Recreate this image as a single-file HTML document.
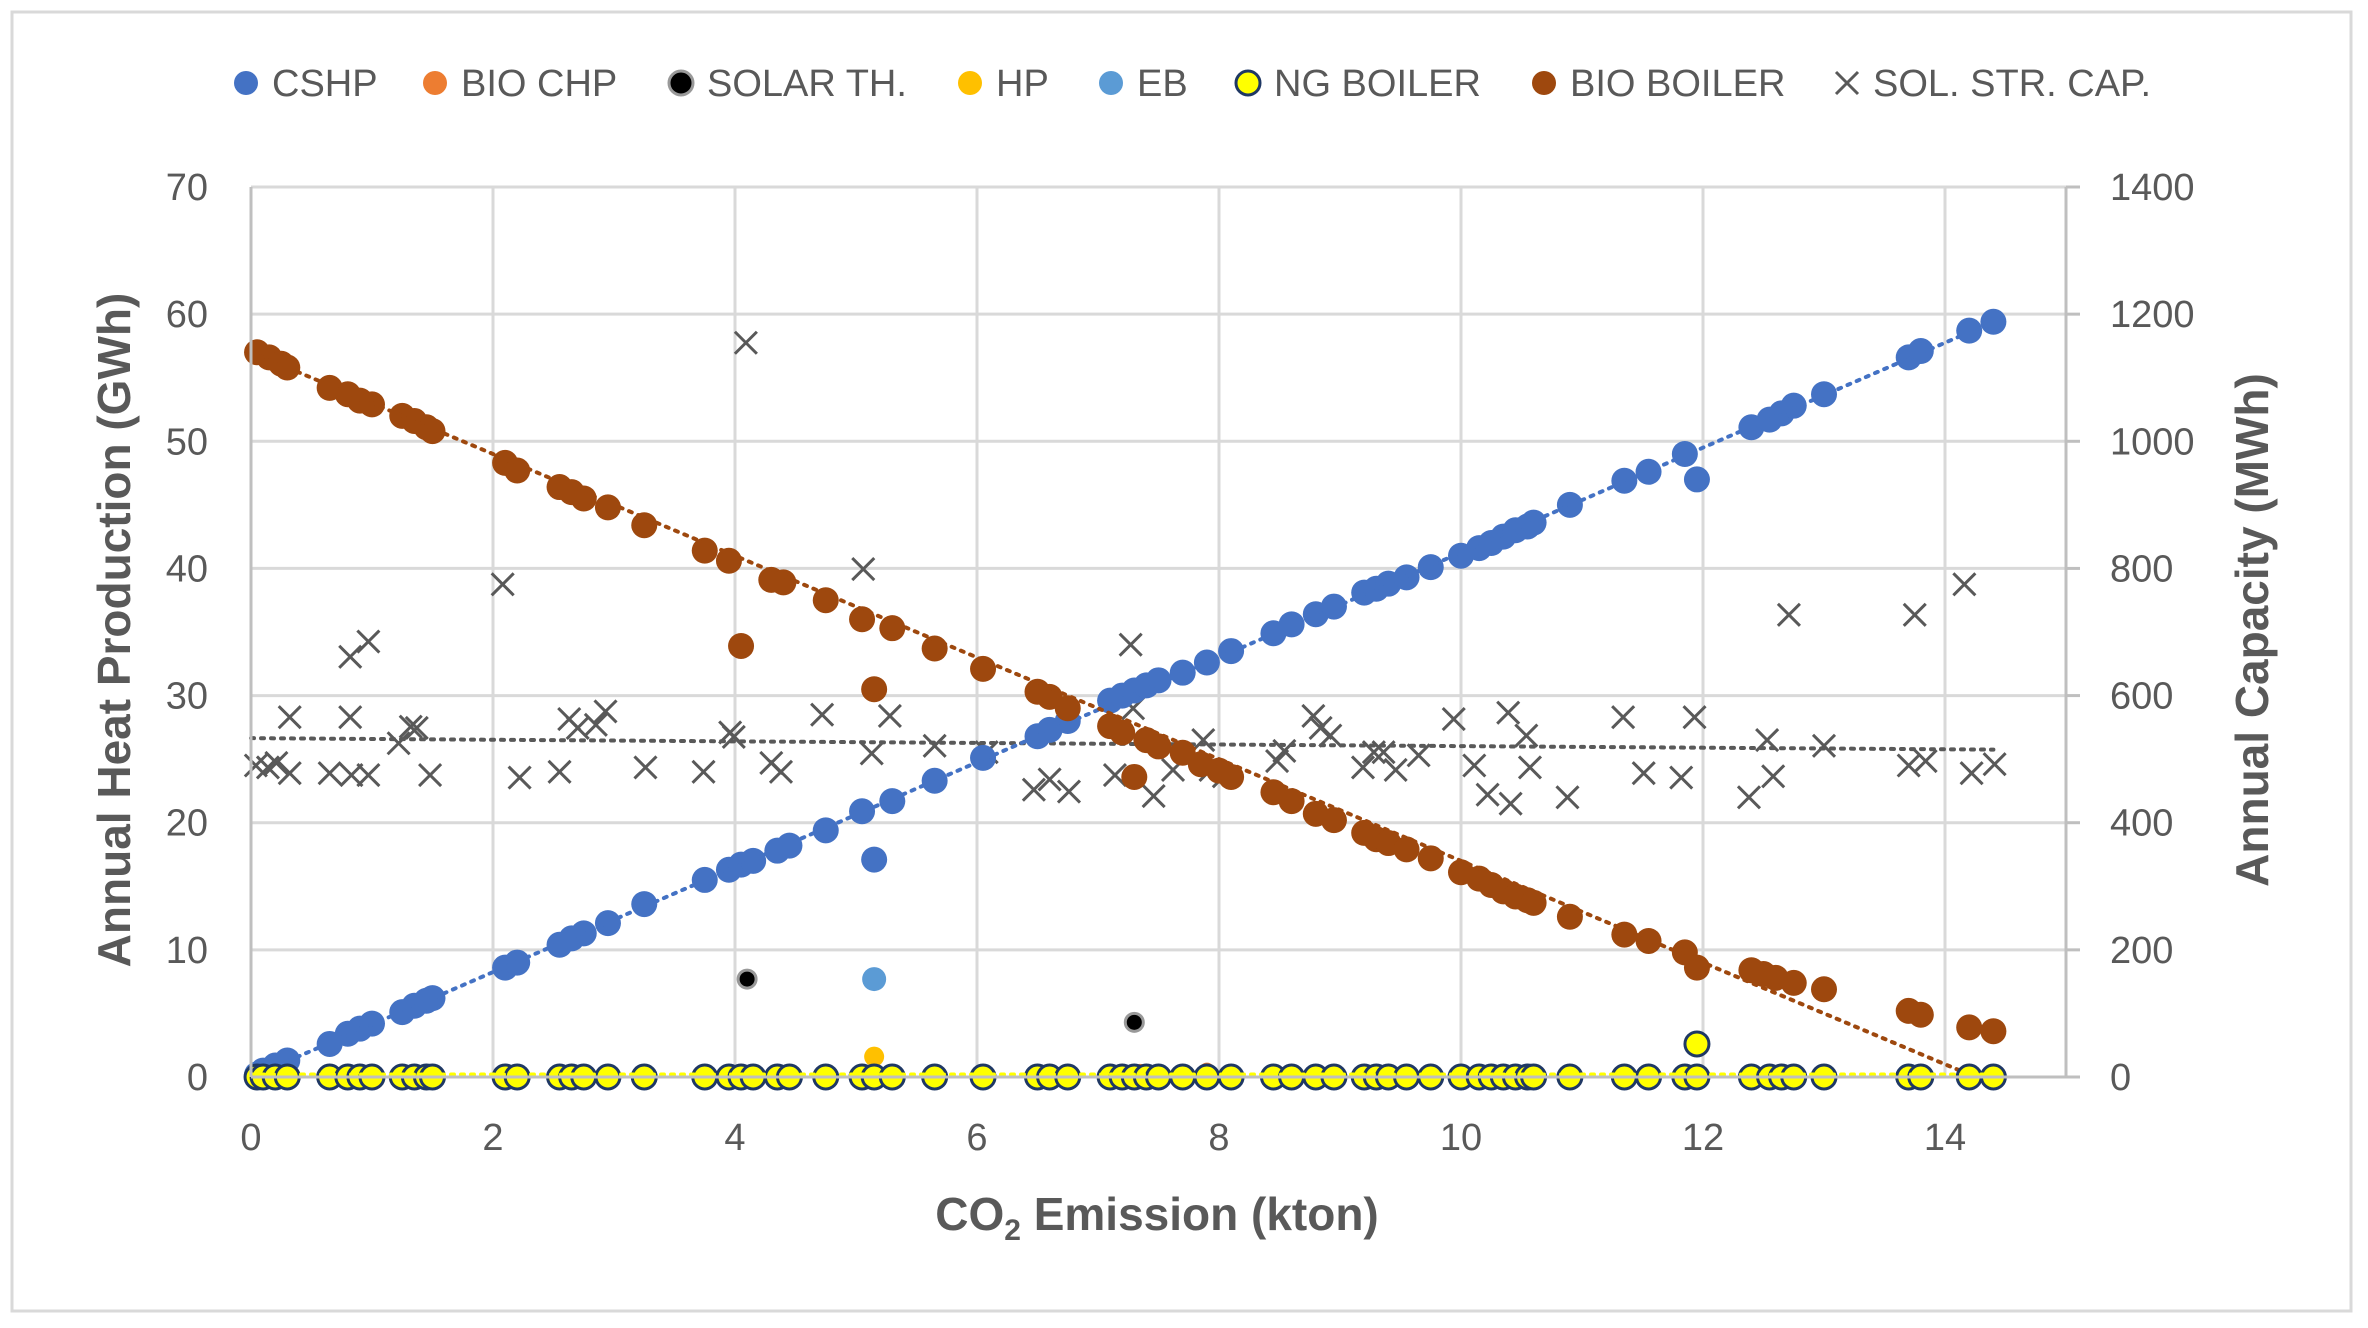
<!DOCTYPE html>
<html><head><meta charset="utf-8"><style>
html,body{margin:0;padding:0;background:#fff}
svg{display:block;font-family:"Liberation Sans",sans-serif}
</style></head><body>
<svg id="chart" width="2368" height="1328" viewBox="0 0 2368 1328" xmlns="http://www.w3.org/2000/svg">
<rect x="12" y="12" width="2339" height="1299" fill="#fff" stroke="#d9d9d9" stroke-width="3"/>
<g id="grid"></g>
<g id="marks"></g>
<g id="axes"></g>
<g id="legend"></g>
</svg>
<script>
const xTicks=[0,2,4,6,8,10,12,14];
const yLeftTicks=[0,10,20,30,40,50,60,70];
const yRightTicks=[0,200,400,600,800,1000,1200,1400];
const cshpX=[0.05,0.1,0.2,0.3,0.65,0.8,0.9,1.0,1.25,1.35,1.45,1.5,2.1,2.2,2.55,2.65,2.75,2.95,3.25,3.75,3.95,4.05,4.15,4.35,4.45,4.75,5.05,5.15,5.3,5.65,6.05,6.5,6.6,6.75,7.1,7.2,7.3,7.4,7.5,7.7,7.9,8.1,8.45,8.6,8.8,8.95,9.2,9.3,9.4,9.55,9.75,10.0,10.15,10.25,10.35,10.45,10.55,10.6,10.9,11.35,11.55,11.85,11.95,12.4,12.55,12.65,12.75,13.0,13.7,13.8,14.2,14.4];
const cshpY=[0.2,0.5,0.9,1.3,2.6,3.4,3.8,4.2,5.1,5.6,6.0,6.2,8.6,9.0,10.4,10.9,11.3,12.1,13.6,15.5,16.3,16.7,17.0,17.8,18.2,19.4,20.9,17.1,21.7,23.3,25.1,26.8,27.3,28.0,29.6,30.0,30.4,30.8,31.2,31.8,32.6,33.5,34.9,35.6,36.4,37.0,38.1,38.4,38.8,39.3,40.1,41.0,41.6,42.0,42.5,43.0,43.3,43.6,45.0,46.9,47.6,49.0,47.0,51.1,51.7,52.2,52.8,53.7,56.6,57.1,58.7,59.4];
const bioBX=[0.05,0.15,0.25,0.3,0.65,0.8,0.9,1.0,1.25,1.35,1.45,1.5,2.1,2.2,2.55,2.65,2.75,2.95,3.25,3.75,3.95,4.05,4.3,4.4,4.75,5.05,5.15,5.3,5.65,6.05,6.5,6.6,6.75,7.1,7.2,7.3,7.4,7.5,7.7,7.85,8.0,8.1,8.45,8.6,8.8,8.95,9.2,9.3,9.4,9.55,9.75,10.0,10.15,10.25,10.35,10.45,10.55,10.6,10.9,11.35,11.55,11.85,11.95,12.4,12.5,12.6,12.75,13.0,13.7,13.8,14.2,14.4];
const bioBY=[57.0,56.6,56.1,55.8,54.2,53.7,53.2,52.9,52.0,51.6,51.1,50.8,48.3,47.7,46.4,46.0,45.5,44.8,43.4,41.4,40.6,33.9,39.1,38.9,37.5,36.0,30.5,35.3,33.7,32.1,30.3,29.9,29.0,27.6,27.1,23.6,26.5,26.0,25.5,24.6,24.1,23.6,22.4,21.7,20.7,20.2,19.2,18.7,18.4,17.9,17.2,16.1,15.6,15.1,14.6,14.2,13.9,13.7,12.6,11.2,10.7,9.8,8.6,8.4,8.1,7.8,7.4,6.9,5.2,4.9,3.9,3.6];
const solCapX=[0.04,0.14,0.21,0.32,0.32,0.65,0.82,0.82,0.97,0.83,0.97,1.22,1.32,1.37,1.48,2.08,2.22,2.55,2.63,2.70,2.85,2.93,3.26,3.74,3.96,3.99,4.09,4.30,4.38,4.72,5.06,5.13,5.28,5.65,6.08,6.47,6.60,6.76,7.14,7.27,7.29,7.46,7.62,7.87,7.93,8.04,8.48,8.54,8.78,8.84,8.92,9.19,9.28,9.36,9.46,9.65,9.94,10.11,10.22,10.39,10.41,10.54,10.57,10.88,11.34,11.51,11.82,11.93,12.38,12.53,12.58,12.71,13.0,13.70,13.75,13.84,14.16,14.22,14.41];
const solCapY=[490,487,494,566,478,478,566,661,685,475,475,525,551,549,475,775,471,480,563,549,554,575,487,480,542,535,1155,494,480,570,799,509,568,521,511,452,468,449,475,680,580,442,483,530,483,473,497,513,568,549,537,487,511,511,483,506,563,490,444,573,430,537,487,440,566,478,471,566,440,530,473,727,521,490,727,497,775,478,492];
const ngX=cshpX.concat([11.95]);
const ngY=cshpX.map(()=>0).concat([2.6]);
const solarX=[4.1,7.3]; const solarY=[7.7,4.3];
const hpX=[5.15]; const hpY=[1.6];
const ebX=[5.15,11.95]; const ebY=[7.7,0];
const bioChpX=[7.35,7.9]; const bioChpY=[0.4,0.5];
const cshpTrend=[[0,0],[14.4,59.4]];
const bioBTrend=[[0,57],[14.25,0]];
const capTrend=[[0,533],[14.4,515]];

const NS="http://www.w3.org/2000/svg";
const L=251,R=2066,T=187,B=1077;
const sx=v=>L+(R-L)*v/15;
const syL=v=>B-(B-T)*v/70;
const syR=v=>B-(B-T)*v/1400;
function mk(tag,attrs,parent){const e=document.createElementNS(NS,tag);for(const k in attrs)e.setAttribute(k,attrs[k]);parent.appendChild(e);return e;}
const grid=document.getElementById('grid'),marks=document.getElementById('marks'),axes=document.getElementById('axes'),legend=document.getElementById('legend');
xTicks.forEach(t=>{const l=mk('line',{x1:sx(t),x2:sx(t),y1:T,y2:B,stroke:'#d9d9d9','stroke-width':3},grid);


const tx=mk('text',{x:sx(t),y:1150,'text-anchor':'middle','font-size':38,fill:'#595959'},axes);tx.textContent=t;

});
yLeftTicks.forEach(t=>{const l=mk('line',{x1:L,x2:R,y1:syL(t),y2:syL(t),stroke:'#d9d9d9','stroke-width':3},grid);


const tx=mk('text',{x:208,y:syL(t)+13,'text-anchor':'end','font-size':38,fill:'#595959'},axes);tx.textContent=t;

});
yRightTicks.forEach(t=>{const tx=mk('text',{x:2110,y:syR(t)+13,'text-anchor':'start','font-size':38,fill:'#595959'},axes);tx.textContent=t;


const tk=mk('line',{x1:R,x2:R+14,y1:syR(t),y2:syR(t),stroke:'#bfbfbf','stroke-width':3},axes);

});
const la=mk('line',{x1:L,x2:L,y1:T,y2:B,stroke:'#bfbfbf','stroke-width':3},axes);


const ra=mk('line',{x1:R,x2:R,y1:T,y2:B,stroke:'#bfbfbf','stroke-width':3},axes);


const ba=mk('line',{x1:L,x2:R+14,y1:B,y2:B,stroke:'#bfbfbf','stroke-width':3},axes);


function title(txt,x,y,rot,name){const t=mk('text',{x:x,y:y,'text-anchor':'middle','font-size':46,'font-weight':'bold',fill:'#595959',transform:rot?`rotate(-90 ${x} ${y})`:''},axes);t.innerHTML=txt;

}
title('Annual Heat Production (GWh)',130,630,true,'y-left-axis-title');
title('Annual Capacity (MWh)',2268,630,true,'y-right-axis-title');
title('CO<tspan font-size="30" dy="10">2</tspan><tspan dy="-10"> Emission (kton)</tspan>',1157,1230,false,'x-axis-title');
function trend(pts,fy,color,name){const l=mk('line',{x1:sx(pts[0][0]),y1:fy(pts[0][1]),x2:sx(pts[1][0]),y2:fy(pts[1][1]),stroke:color,'stroke-width':4,'stroke-dasharray':'3 7','stroke-linecap':'round'},marks);

}
function dots(xs,ys,fy,fill,stroke,name,r){xs.forEach((x,i)=>{const c=mk('circle',{cx:sx(x),cy:fy(ys[i]),r:r||13,fill:fill,stroke:stroke||'none','stroke-width':3},marks);

});}
function crosses(xs,ys,fy,name){xs.forEach((x,i)=>{const cx=sx(x),cy=fy(ys[i]),s=11;const p=mk('path',{d:`M${cx-s} ${cy-s}L${cx+s} ${cy+s}M${cx+s} ${cy-s}L${cx-s} ${cy+s}`,stroke:'#595959','stroke-width':3,fill:'none'},marks);

});}
crosses(solCapX,solCapY,syR,'sol-str-cap-point');
trend(capTrend,syR,'#595959','sol-str-cap-trendline');
dots(cshpX,cshpY,syL,'#4472C4',null,'cshp-point');
trend(cshpTrend,syL,'#4472C4','cshp-trendline');
dots(bioBX,bioBY,syL,'#9E480E',null,'bio-boiler-point');
trend(bioBTrend,syL,'#9E480E','bio-boiler-trendline');
dots(bioChpX,bioChpY,syL,'#ED7D31',null,'bio-chp-point',8);
dots(solarX,solarY,syL,'#000',"#999",'solar-th-point',9);
dots(hpX,hpY,syL,'#FFC000',null,'hp-point',10);
dots(ebX,ebY,syL,'#5B9BD5',null,'eb-point',12);
dots(ngX,ngY,syL,'#FFFF00','#1F3864','ng-boiler-point',12);
trend([[0,0.2],[14.4,0.2]],syL,'#FFFF00','ng-boiler-trendline');
const items=[['CSHP',246,'#4472C4'],['BIO CHP',435,'#ED7D31'],['SOLAR TH.',681,'#000'],['HP',970,'#FFC000'],['EB',1111,'#5B9BD5'],['NG BOILER',1248,'#FFFF00'],['BIO BOILER',1544,'#9E480E'],['SOL. STR. CAP.',1847,null]];
items.forEach(it=>{const g=mk('g',{},legend);


if(it[2]){mk('circle',{cx:it[1],cy:83,r:12,fill:it[2],stroke:it[0]=='NG BOILER'?'#1F3864':(it[0]=='SOLAR TH.'?'#999':'none'),'stroke-width':3},g);}
else{mk('path',{d:`M${it[1]-11} 72L${it[1]+11} 94M${it[1]+11} 72L${it[1]-11} 94`,stroke:'#595959','stroke-width':3},g);}
const t=mk('text',{x:it[1]+26,y:96,'font-size':38,fill:'#595959'},g);t.textContent=it[0];});
</script>
</body></html>
